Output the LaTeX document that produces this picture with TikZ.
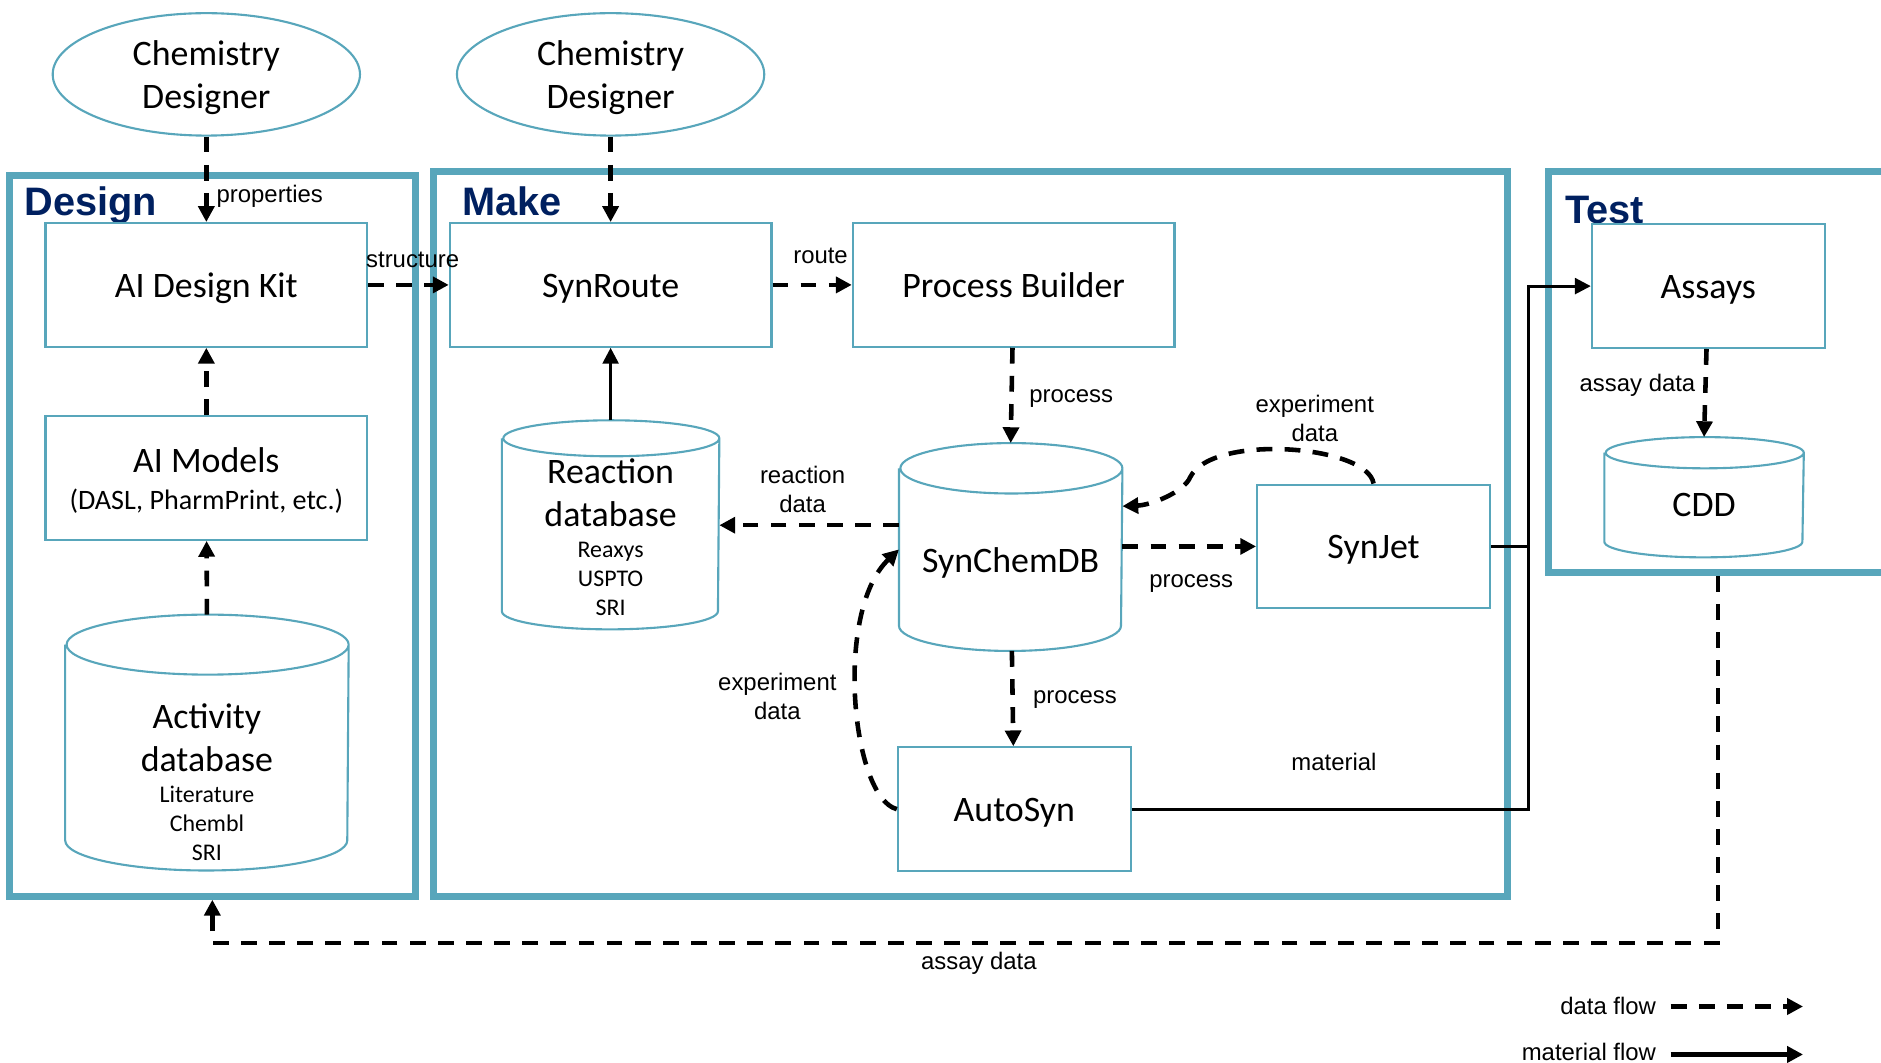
\documentclass[tikz,border=0pt]{standalone}
\usepackage{fontspec}
\setmainfont{Carlito}
\newfontfamily\arialfont{Liberation Sans}
\usetikzlibrary{shapes.geometric,arrows.meta}

\definecolor{frameteal}{RGB}{88,166,187}
\definecolor{titlenavy}{RGB}{0,32,96}
\newcommand\smalltxt{\fontsize{6.8}{8.2}\selectfont}
\newcommand\midtxt{\fontsize{8}{9.6}\selectfont}

\tikzset{
  box/.style={draw=frameteal, line width=0.6pt, minimum width=3.216cm, minimum height=1.236cm,
    inner sep=0pt, align=center, font=\fontsize{10.2}{12.3}\selectfont},
  oneline/.style={text height=9.7pt, text depth=2.7pt},
  sbox/.style={box, oneline, minimum width=2.328cm},
  person/.style={ellipse, draw=frameteal, line width=0.6pt, minimum width=3.072cm, minimum height=1.224cm,
    inner sep=0pt, align=center, text depth=0.1pt, font=\fontsize{10.2}{12.3}\selectfont},
  dbase/.style={inner sep=0pt, align=center, font=\fontsize{10.2}{12.3}\selectfont},
  dbline/.style={draw=frameteal, line width=0.6pt},
  frame/.style={draw=frameteal, line width=2pt},
  ttl/.style={font=\arialfont\bfseries\fontsize{11.3}{13}\selectfont, text=titlenavy, anchor=base west, inner sep=0pt},
  lbl2/.style={font=\arialfont\fontsize{6.8}{8.2}\selectfont, align=center, inner sep=0pt},
  lbl/.style={lbl2, text height=6.15pt, text depth=1.44pt},
  dflow/.style={line width=1.3pt, dash pattern=on 4.5pt off 3.5pt, -{Triangle[length=4.5pt,width=4.5pt]}},
  mflow/.style={line width=0.8pt, -{Triangle[length=4.5pt,width=4.5pt]}}
}

\begin{document}
\begin{tikzpicture}[x=0.012cm,y=-0.012cm]
	\useasboundingbox (0,0) rectangle (1568,886);

	% the three stages
	\draw[frame] (8,146) rectangle (346,747);
	\draw[frame] (361,143) rectangle (1257,747);
	\draw[frame] (1580,143) -- (1291,143) -- (1291,477) -- (1580,477);
	\node[ttl] (tdesign) at (20,179.5) {Design};
	\node[ttl] (tmake) at (385,179.5) {Make};
	\node[ttl] (ttest) at (1304,186) {Test};

	\node[person] (cd1) at (172,62) {Chemistry\\Designer};
	\node[person] (cd2) at (509,62) {Chemistry\\Designer};

	\node[box, oneline] (adk) at (172,237.5) {AI Design Kit};
	\node[box, text height=17.8pt, text depth=0pt] (aim) at (172,398.5) {AI Models\\[-1.8pt]{\midtxt (DASL, PharmPrint, etc.)}};
	\node[box, oneline] (synroute) at (509,237.5) {SynRoute};
	\node[box, oneline] (pb) at (845,237.5) {Process Builder};
	\node[sbox] (synjet) at (1145,455.5) {SynJet};
	\node[sbox] (autosyn) at (845.5,674.5) {AutoSyn};
	\node[sbox] (assays) at (1424,238.5) {Assays};

	% databases: node is the body below the lid
	\node[dbase, minimum width=2.82cm, minimum height=1.944cm, text height=50pt, text depth=0pt] (act) at (172.5,644)
		{Activity\\database\\[-3.4pt]{\smalltxt Literature}\\[-4.1pt]{\smalltxt Chembl}\\[-4.1pt]{\smalltxt SRI}};
	\node[dbase, minimum width=2.16cm, minimum height=1.716cm, text depth=3.4pt] (rdb) at (509,452.5)
		{Reaction\\database\\[-3.4pt]{\smalltxt Reaxys}\\[-4.1pt]{\smalltxt USPTO}\\[-4.1pt]{\smalltxt SRI}};
	\node[dbase, minimum width=2.22cm, minimum height=1.56cm, text height=9.7pt, text depth=9.8pt] (scdb) at (842.5,477) {SynChemDB};
	\node[dbase, minimum width=1.98cm, minimum height=0.876cm, text height=9.7pt, text depth=7.6pt] (cdd) at (1420.5,427.5) {CDD};
	\foreach \n/\w/\ry in {act/1.41/0.3, rdb/1.08/0.18, scdb/1.11/0.252, cdd/0.99/0.156}
		\draw[dbline] ([yshift=\ry cm]\n.north west) -- ([yshift=\ry cm]\n.south west)
			arc[start angle=180, end angle=360, x radius=\w cm, y radius=\ry cm]
			-- ([yshift=\ry cm]\n.north east)
			arc[start angle=0, end angle=180, x radius=\w cm, y radius=\ry cm]
			arc[start angle=180, end angle=360, x radius=\w cm, y radius=\ry cm];

	\coordinate (mj) at (1274,455.5);
	\coordinate (tbot) at (1432,480);
	\coordinate (lcorner) at (177,786);
	\coordinate (dbot) at (177,750);

	% data flow
	\draw[dflow] (cd1) -- (adk);
	\draw[dflow] (cd2) -- (synroute);
	\draw[dflow] (adk) -- (synroute);
	\draw[dflow] (synroute) -- (pb);
	\draw[dflow] (aim) -- (adk);
	\draw[dflow] ([yshift=0.6cm]act.north) -- (aim);
	\draw[dflow] (pb) -- ([yshift=0.504cm]scdb.north);
	\draw[dflow] ([yshift=0.47cm]scdb.west) -- ([yshift=0.47cm]scdb.west -| rdb.east);
	\draw[dflow] (scdb.east |- synjet.west) -- (synjet.west);
	\draw[dflow] (synjet.north) .. controls (1140,371) and (1010,361) .. (992,398)
		.. controls (987,410) and (960,421) .. ([yshift=0.66cm]scdb.east);
	\draw[dflow] (scdb) -- (autosyn);
	\draw[dflow] (autosyn.west) .. controls (710,665) and (695,510) .. ([yshift=0.228cm]scdb.west);
	\draw[dflow] (assays) -- ([yshift=0.312cm]cdd.north);
	\draw[dflow] (tbot) |- (lcorner) -- (dbot);

	% material flow
	\draw[mflow] ([yshift=0.36cm]rdb.north) -- (synroute);
	\draw[mflow] (autosyn.east) -| (mj) |- (assays.west);
	\draw[line width=0.8pt] (synjet.east) -- (mj);

	\node[lbl, anchor=west] (lprop) at (180,161.5) {properties};
	\node[lbl] (lstruct) at (344,216.5) {structure};
	\node[lbl] (lroute) at (684,212.5) {route};
	\node[lbl] (lproc1) at (893,328.5) {process};
	\node[lbl2] (lexp1) at (1096,349) {experiment\\data};
	\node[lbl2] (lreac) at (669,408) {reaction\\data};
	\node[lbl] (lproc2) at (993,482.5) {process};
	\node[lbl] (lproc3) at (896,579.5) {process};
	\node[lbl2] (lexp2) at (648,580.5) {experiment\\data};
	\node[lbl] (lmat) at (1112,635.5) {material};
	\node[lbl] (lassay1) at (1365,319.5) {assay data};
	\node[lbl] (lassay2) at (816,801.5) {assay data};

	% legend
	\node[lbl, anchor=east] (ldata) at (1381,838.5) {data flow};
	\node[lbl, anchor=east] (lmatf) at (1381,877.5) {material flow};
	\coordinate (ldend) at (1503,839);
	\coordinate (lmend) at (1503,879);
	\draw[dflow] ([xshift=0.14cm]ldata.east |- ldend) -- (ldend);
	\draw[mflow, line width=1.3pt] ([xshift=0.14cm]lmatf.east |- lmend) -- (lmend);
\end{tikzpicture}
\end{document}
